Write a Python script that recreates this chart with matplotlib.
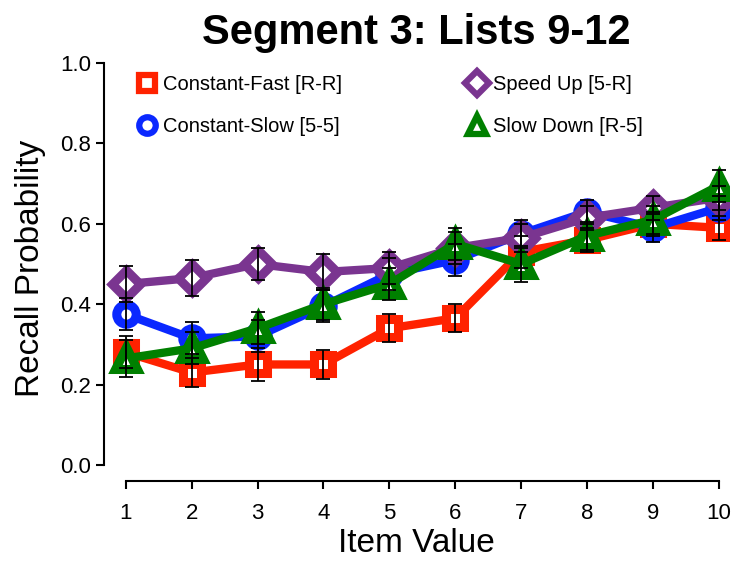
import numpy as np
import matplotlib.pyplot as plt
from matplotlib.lines import Line2D

plt.rcParams['font.family'] = ['Liberation Sans', 'DejaVu Sans']

items = np.arange(1, 11)

fast = [0.28, 0.23, 0.25, 0.25, 0.34, 0.365, 0.53, 0.56, 0.60, 0.59]
fast_err = [0.04, 0.035, 0.04, 0.035, 0.035, 0.035, 0.04, 0.03, 0.03, 0.03]
slow = [0.375, 0.315, 0.32, 0.395, 0.475, 0.51, 0.575, 0.63, 0.59, 0.64]
slow_err = [0.04, 0.04, 0.04, 0.04, 0.04, 0.04, 0.035, 0.03, 0.035, 0.03]
speed_up = [0.45, 0.465, 0.50, 0.48, 0.49, 0.54, 0.565, 0.615, 0.64, 0.665]
speed_up_err = [0.045, 0.045, 0.04, 0.045, 0.04, 0.04, 0.035, 0.03, 0.03, 0.03]
slow_down = [0.265, 0.29, 0.34, 0.40, 0.45, 0.55, 0.50, 0.57, 0.61, 0.695]
slow_down_err = [0.045, 0.04, 0.04, 0.04, 0.04, 0.04, 0.045, 0.035, 0.035, 0.04]

series = [
    ('Constant-Fast [R-R]', fast, fast_err, '#FF2200', 's', 13),
    ('Constant-Slow [5-5]', slow, slow_err, '#0A28FF', 'o', 14),
    ('Speed Up [5-R]', speed_up, speed_up_err, '#7A3590', 'D', 14),
    ('Slow Down [R-5]', slow_down, slow_down_err, '#008000', '^', 16),
]

fig = plt.figure(figsize=(7.36, 5.63), dpi=100)
ax = fig.add_axes([0.1413, 0.1456, 0.849, 0.7567])

handles = []
for label, vals, err, color, marker, ms in series:
    ax.plot(items, vals, color=color, lw=6, marker=marker, ms=ms,
            mfc='white', mec=color, mew=6.5, zorder=2)
    handles.append(Line2D([], [], ls='none', marker=marker, ms=ms * 0.85,
                          mfc='white', mec=color, mew=4.5, label=label))
for label, vals, err, color, marker, ms in series:
    ax.errorbar(items, vals, yerr=err, fmt='none', ecolor='black',
                elinewidth=1.3, capsize=5, capthick=1.3, zorder=3)

ax.set_xlim(0.67, 10.15)
ax.set_ylim(-0.04, 1.02)
ax.set_xticks(items)
ax.set_yticks([0.0, 0.2, 0.4, 0.6, 0.8, 1.0])
ax.set_yticklabels(['0.0', '0.2', '0.4', '0.6', '0.8', '1.0'])
ax.spines['top'].set_visible(False)
ax.spines['right'].set_visible(False)
ax.spines['left'].set_bounds(0, 1.0)
ax.spines['bottom'].set_bounds(1, 10)
ax.spines['left'].set_linewidth(1.5)
ax.spines['bottom'].set_linewidth(1.5)
ax.tick_params(labelsize=16, width=1.5, length=6, direction='out')
ax.tick_params(axis='x', pad=10)

ax.set_xlabel('Item Value', fontsize=24, labelpad=3)
ax.set_ylabel('Recall Probability', fontsize=24, labelpad=10)
ax.set_title('Segment 3: Lists 9-12', fontsize=30, fontweight='bold', pad=8)

ax.legend(handles=[handles[0], handles[1], handles[2], handles[3]],
          ncol=2, loc='upper left', bbox_to_anchor=(0.02, 0.995),
          frameon=False, fontsize=14.5, handletextpad=0.2,
          columnspacing=6.1, labelspacing=1.15, handlelength=1.2)

fig.savefig('out.png', dpi=100)
